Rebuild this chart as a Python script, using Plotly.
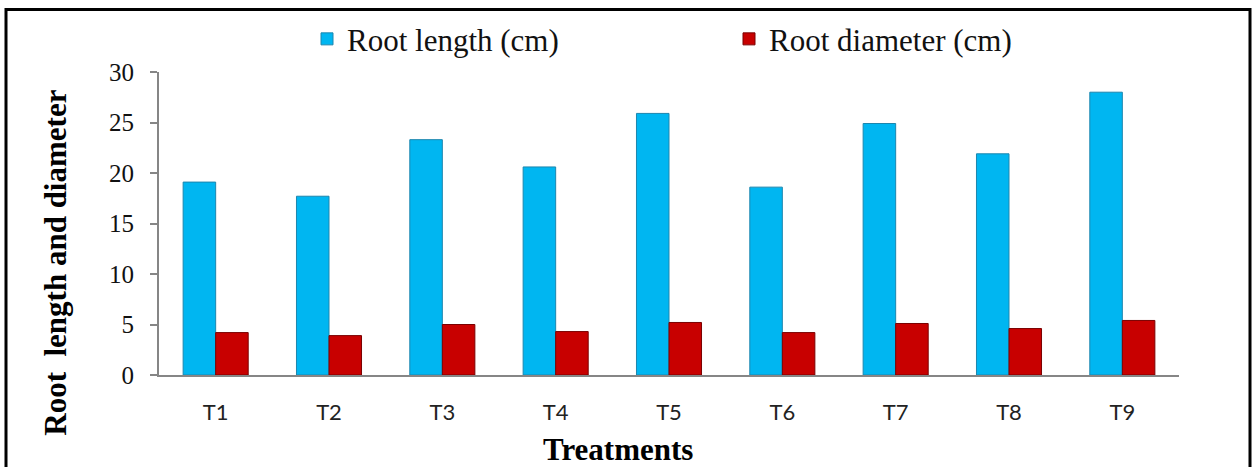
import plotly.graph_objects as go

# ---- data ----
treatments = ["T1", "T2", "T3", "T4", "T5", "T6", "T7", "T8", "T9"]
root_length = [19.1, 17.7, 23.3, 20.6, 25.9, 18.6, 24.9, 21.9, 28.0]
root_diameter = [4.2, 3.9, 5.0, 4.3, 5.2, 4.2, 5.1, 4.6, 5.4]
y_ticks = [0, 5, 10, 15, 20, 25, 30]

# ---- layout geometry (pixels) ----
W, H = 1256, 467
L, R, T, B = 159, 1179, 70, 375


def px2x(px):
    return (px - L) / (R - L)


def py2y(py):
    return (B - py) / (B - T)


SERIF = "Liberation Serif, Times New Roman, serif"
SANS = "Lato, Open Sans, sans-serif"
AXIS_GREY = "#868686"

fig = go.Figure()
fig.add_trace(go.Bar(
    x=treatments, y=root_length, name="Root length (cm)",
    marker=dict(color="#00B6F1", line=dict(color="#1C86AE", width=1)),
))
fig.add_trace(go.Bar(
    x=treatments, y=root_diameter, name="Root diameter (cm)",
    marker=dict(color="#C80000", line=dict(color="#7A0000", width=1)),
))

fig.update_layout(
    width=W, height=H,
    margin=dict(l=L, r=W - R, t=T, b=H - B, pad=0),
    paper_bgcolor="white", plot_bgcolor="white",
    barmode="group", bargap=0.426, bargroupgap=0,
    showlegend=True,
    legend=dict(
        orientation="h", x=px2x(307), y=py2y(37),
        xanchor="left", yanchor="middle",
        font=dict(family=SERIF, size=31, color="#111"),
        entrywidth=377, entrywidthmode="pixels",
        bgcolor="rgba(0,0,0,0)",
    ),
    xaxis=dict(
        showline=True, linecolor=AXIS_GREY, linewidth=2,
        ticks="", showgrid=False, zeroline=False,
        tickfont=dict(family=SANS, size=22, color="#222"),
        ticklabelstandoff=17,
    ),
    yaxis=dict(
        range=[0, 30], tickvals=y_ticks,
        showline=True, linecolor=AXIS_GREY, linewidth=2,
        ticks="outside", ticklen=7, tickcolor=AXIS_GREY, tickwidth=2,
        showgrid=False, zeroline=False,
        tickfont=dict(family=SERIF, size=25, color="#111"),
        ticklabelstandoff=11,
    ),
    annotations=[
        dict(text="<b>Root  length and diameter</b>", textangle=-90,
             x=px2x(56), y=py2y(262), xref="paper", yref="paper",
             xanchor="center", yanchor="middle", showarrow=False,
             font=dict(family=SERIF, size=31, color="#000")),
        dict(text="<b>Treatments</b>",
             x=px2x(618), y=py2y(450), xref="paper", yref="paper",
             xanchor="center", yanchor="middle", showarrow=False,
             font=dict(family=SERIF, size=31, color="#000")),
    ],
    shapes=[
        dict(type="rect", xref="paper", yref="paper",
             x0=px2x(6), x1=px2x(1250), y0=py2y(480), y1=py2y(7),
             line=dict(color="black", width=3), fillcolor="rgba(0,0,0,0)",
             layer="below"),
    ],
)

fig.write_html(
    "out.html",
    config={"displayModeBar": False},
    post_script="document.body.style.margin='0px';document.body.style.overflow='hidden';",
)
